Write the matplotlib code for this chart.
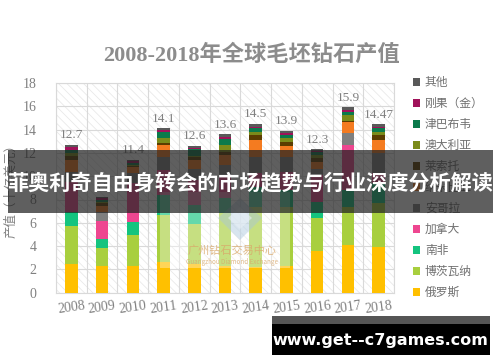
import matplotlib
matplotlib.use("Agg")
import matplotlib.pyplot as plt
from matplotlib.patches import Rectangle, Polygon
import numpy as np

plt.rcParams['font.family'] = ['Noto Sans CJK SC', 'DejaVu Sans']

years = ["2008", "2009", "2010", "2011", "2012", "2013", "2014", "2015", "2016", "2017", "2018"]
countries = ["俄罗斯", "博茨瓦纳", "南非", "加拿大", "安哥拉", "纳米比亚",
             "莱索托", "澳大利亚", "津巴布韦", "刚果（金）", "其他"]
russia       = [2.5, 2.32, 2.32, 2.66, 2.5, 2.25, 2.23, 2.25, 3.58, 4.1, 3.95]
botswana     = [3.25, 1.5, 2.63, 4.0, 3.4, 4.6, 5.12, 5.1, 2.8, 3.25, 3.75]
south_africa = [1.15, 0.8, 1.15, 1.7, 1.6, 1.3, 1.7, 1.45, 1.4, 1.45, 1.7]
canada       = [2.6, 1.5, 3.3, 2.2, 2.2, 1.8, 1.22, 1.55, 2.3, 3.86, 0.87]
angola       = [0.86, 0.8, 0.85, 1.1, 0.9, 1.0, 1.38, 1.3, 0.55, 1.04, 1.73]
namibia      = [1.04, 0.5, 0.5, 1.0, 0.8, 0.9, 1.45, 0.95, 0.6, 0.95, 1.1]
lesotho      = [0.3, 0.25, 0.15, 0.15, 0.25, 0.2, 0.4, 0.3, 0.3, 0.1, 0.4]
australia    = [0.3, 0.1, 0.1, 0.45, 0.1, 0.6, 0.3, 0.35, 0.3, 0.5, 0.3]
zimbabwe     = [0.25, 0.2, 0.15, 0.5, 0.55, 0.55, 0.35, 0.3, 0.25, 0.25, 0.35]
congo        = [0.25, 0.13, 0.15, 0.2, 0.15, 0.15, 0.1, 0.15, 0.1, 0.2, 0.1]
other        = [0.2, 0.1, 0.1, 0.14, 0.15, 0.25, 0.25, 0.2, 0.12, 0.2, 0.22]
total_labels = ["12.7", "8.2", "11.4", "14.1", "12.6", "13.6", "14.5", "13.9", "12.3", "15.9", "14.47"]
yticks = [0, 2, 4, 6, 8, 10, 12, 14, 16, 18]

series = [russia, botswana, south_africa, canada, angola, namibia,
          lesotho, australia, zimbabwe, congo, other]
colors = ["#FFC000", "#A8CF3E", "#14C47F", "#EE4690", "#7F7F7F", "#F47B20",
          "#5C3D00", "#7B8B1A", "#0B7A4B", "#A0125A", "#595959"]

W, H = 500, 362
fig = plt.figure(figsize=(W / 100, H / 100), dpi=100)
fig.patch.set_facecolor("white")

def fx(px):
    return px / W

def fy(py):
    return 1 - py / H

ax = fig.add_axes([fx(56), fy(292.7), fx(394) - fx(56), fy(83) - fy(292.7)])
x = np.arange(len(years))

# hatched plot background
plt.rcParams['hatch.linewidth'] = 0.6
bg = Rectangle((0, 0), 1, 1, transform=ax.transAxes, facecolor="white",
               edgecolor="#e9e9e9", hatch="\\\\\\\\", lw=0, zorder=0)
ax.add_patch(bg)

bottom = np.zeros(len(years))
handles = []
for vals, c, name in zip(series, colors, countries):
    b = ax.bar(x, vals, 0.41, bottom=bottom, color=c, label=name, zorder=3, linewidth=0)
    handles.append(b)
    bottom = bottom + np.array(vals)

for i, lab in enumerate(total_labels):
    ax.text(x[i], bottom[i] + 0.3, lab, ha="center", va="bottom",
            fontsize=9.5, color="#808080", family="Liberation Serif", zorder=4)

ax.set_xlim(-0.5, len(years) - 0.5)
ax.set_ylim(0, 18)
ax.set_yticks(yticks)
ax.set_yticklabels([str(t) for t in yticks], family="Liberation Serif",
                   fontsize=10, color="#808080")
ax.set_xticks(x)
ax.set_xticklabels(years, family="Liberation Serif", fontsize=10,
                   color="#808080", rotation=8)
ax.set_xticks(np.arange(-0.5, len(years), 1.0), minor=True)
ax.tick_params(axis="both", length=0, which="both")
ax.tick_params(axis="y", pad=14)
ax.tick_params(axis="x", pad=5)
ax.grid(axis="y", which="major", color="#d9d9d9", lw=0.8, zorder=1)
ax.grid(axis="x", which="minor", color="#d9d9d9", lw=0.8, zorder=1)
ax.set_axisbelow(True)
for s in ax.spines.values():
    s.set_color("#d9d9d9")
    s.set_linewidth(0.8)
ax.set_ylabel("产值（十亿美元）", fontsize=9, color="#808080", labelpad=4)

fig.text(fx(251), fy(55), "2008-2018年全球毛坯钻石产值", ha="center", va="center",
         fontsize=16, fontweight="bold", color="#8c8c8c",
         family=["Liberation Serif", "Noto Sans CJK SC"])

leg = ax.legend(handles[::-1], countries[::-1], loc="upper left",
                bbox_to_anchor=(fx(413), fy(76)), bbox_transform=fig.transFigure,
                frameon=False, fontsize=8.5, handlelength=0.6, handleheight=0.6,
                handletextpad=0.4, labelspacing=0.68, borderaxespad=0, borderpad=0)
for t in leg.get_texts():
    t.set_color("#707070")

# watermark (Guangzhou Diamond Exchange)
fig.patches.append(Rectangle((fx(160), fy(268)), fx(290) - fx(160), fy(192) - fy(268),
                             transform=fig.transFigure, facecolor="white",
                             alpha=0.35, lw=0, zorder=5))
fig.patches.append(Polygon([(fx(240), fy(198)), (fx(262), fy(218)), (fx(240), fy(240)),
                            (fx(218), fy(218))], closed=True, transform=fig.transFigure,
                           facecolor="#a9c6dc", alpha=0.45, lw=0, zorder=5))
fig.patches.append(Polygon([(fx(240), fy(207)), (fx(252), fy(218)), (fx(240), fy(229)),
                            (fx(228), fy(218))], closed=True, transform=fig.transFigure,
                           facecolor="#e8f0f6", alpha=0.6, lw=0, zorder=5))
fig.text(fx(232), fy(251), "广州钻石交易中心", ha="center", va="center",
         fontsize=8, color="#d9a86a", alpha=0.8, zorder=6)
fig.text(fx(232), fy(262), "Guangzhou Diamond Exchange", ha="center", va="center",
         fontsize=4.5, color="#d9a86a", alpha=0.8, zorder=6)

# dark banner
fig.patches.append(Rectangle((fx(8), fy(213)), fx(493) - fx(8), fy(150) - fy(213),
                             transform=fig.transFigure, facecolor="#222222",
                             alpha=0.72, lw=0, zorder=7))
fig.text(fx(250.5), fy(183), "菲奥利奇自由身转会的市场趋势与行业深度分析解读",
         ha="center", va="center", fontsize=15.2, fontweight="bold", color="white", zorder=8)

# bottom url box
fig.patches.append(Rectangle((fx(272), fy(324)), fx(490) - fx(272), fy(316) - fy(324),
                             transform=fig.transFigure, facecolor="#555555", lw=0, zorder=7))
fig.patches.append(Rectangle((fx(272), fy(355)), fx(490) - fx(272), fy(324) - fy(355),
                             transform=fig.transFigure, facecolor="black", lw=0, zorder=7))
fig.text(fx(380), fy(340), "www.get--c7games.com", ha="center", va="center",
         fontsize=11.5, fontweight="bold", color="white", family="DejaVu Sans", zorder=8)

fig.savefig("out.png", dpi=100, facecolor="white")
